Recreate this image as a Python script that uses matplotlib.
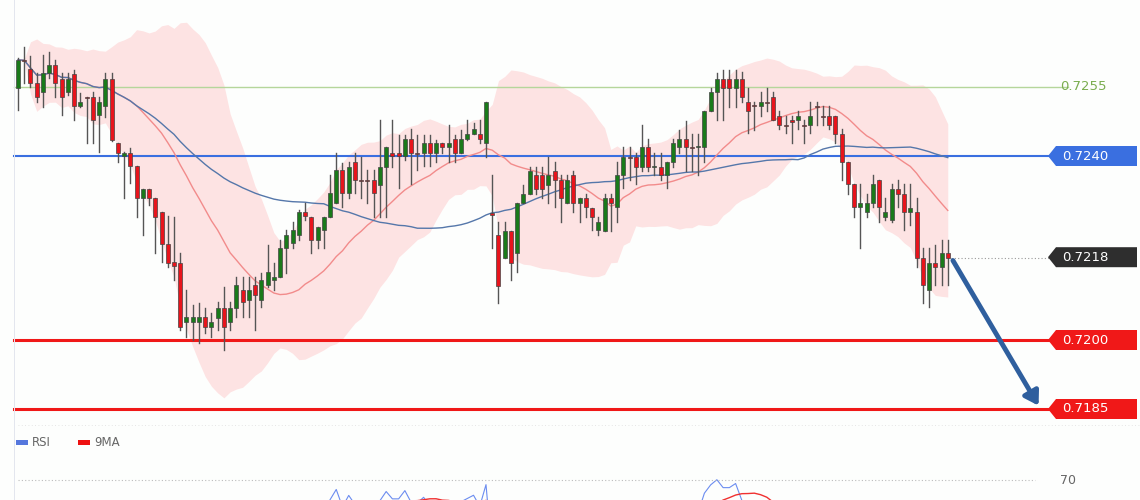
import numpy as np
import pandas as pd
import matplotlib
matplotlib.use("Agg")
import matplotlib.pyplot as plt
from matplotlib.patches import Polygon, Rectangle

# OHLC in units of 1e-5
opens = np.array([72548,72609,72589,72559,72539,72580,72598,72567,72539,72578,72509,72528,72528,72489,72509,72567,72428,72400,72407,72378,
72309,72328,72309,72278,72209,72170,72167,72039,72039,72039,72050,72028,72048,72070,72039,72070,72109,72087,72120,72087,
72120,72130,72137,72200,72211,72228,72278,72267,72217,72239,72267,72298,72370,72320,72387,72348,72348,72348,72337,72376,
72407,72407,72400,72437,72407,72407,72428,72407,72428,72420,72437,72407,72437,72448,72448,72428,72276,72228,72178,72237,
72189,72298,72317,72359,72359,72337,72367,72348,72298,72359,72298,72309,72287,72239,72237,72309,72289,72359,72398,72398,
72376,72420,72376,72376,72359,72387,72420,72437,72420,72420,72420,72498,72539,72567,72567,72548,72567,72517,72511,72509,
72517,72528,72487,72467,72478,72478,72467,72467,72509,72487,72487,72487,72448,72387,72339,72289,72278,72298,72348,72267,
72261,72328,72317,72278,72278,72178,72109,72167,72159,72189]) / 1e5
highs = np.array([72613,72637,72617,72580,72620,72626,72609,72580,72580,72587,72537,72528,72539,72528,72580,72580,72428,72409,72417,72378,
72328,72328,72309,72278,72270,72267,72189,72109,72076,72080,72070,72059,72083,72115,72083,72137,72137,72137,72137,72146,
72207,72167,72217,72239,72257,72283,72298,72267,72246,72267,72359,72407,72385,72387,72407,72398,72370,72370,72478,72420,
72478,72446,72446,72459,72446,72446,72446,72435,72428,72467,72446,72457,72478,72472,72478,72517,72359,72257,72257,72237,
72298,72337,72376,72376,72376,72398,72387,72359,72359,72367,72309,72317,72287,72267,72317,72317,72387,72420,72420,72407,
72467,72437,72407,72407,72387,72437,72457,72476,72448,72448,72498,72548,72580,72587,72587,72587,72583,72548,72517,72539,
72548,72539,72498,72487,72487,72498,72478,72517,72517,72509,72509,72487,72459,72387,72339,72339,72317,72359,72348,72309,
72339,72348,72339,72339,72309,72200,72200,72207,72217,72217]) / 1e5
lows = np.array([72500,72559,72550,72517,72507,72570,72528,72489,72533,72478,72507,72428,72428,72409,72485,72433,72387,72309,72341,72267,
72228,72293,72189,72170,72159,72130,72022,72007,72000,71993,72015,72007,72022,71978,72022,72050,72050,72050,72022,72072,
72115,72109,72137,72146,72200,72217,72261,72189,72200,72200,72267,72298,72289,72309,72320,72309,72298,72267,72267,72267,
72376,72330,72391,72339,72370,72378,72378,72387,72407,72387,72387,72407,72435,72448,72428,72398,72200,72080,72178,72130,
72148,72298,72317,72317,72309,72298,72289,72257,72298,72278,72257,72267,72239,72228,72237,72237,72257,72330,72348,72339,
72367,72367,72359,72348,72330,72376,72407,72367,72367,72359,72387,72498,72478,72478,72507,72507,72517,72450,72457,72487,
72498,72478,72459,72450,72428,72459,72428,72450,72467,72467,72459,72428,72348,72317,72267,72200,72267,72289,72257,72261,
72257,72289,72239,72250,72159,72080,72072,72120,72120,72120]) / 1e5
closes = np.array([72609,72607,72559,72528,72580,72598,72559,72528,72567,72509,72517,72526,72478,72517,72567,72435,72407,72407,72378,72309,
72328,72309,72267,72209,72167,72161,72028,72050,72050,72050,72028,72039,72070,72028,72070,72120,72083,72109,72098,72130,
72148,72137,72200,72228,72239,72278,72270,72217,72246,72267,72320,72370,72320,72376,72348,72346,72346,72320,72376,72420,
72400,72400,72437,72407,72405,72428,72407,72428,72420,72428,72407,72437,72448,72459,72437,72517,72272,72117,72237,72167,
72298,72317,72367,72328,72328,72359,72348,72309,72348,72298,72309,72289,72267,72257,72309,72298,72359,72398,72396,72376,
72420,72376,72378,72359,72387,72428,72437,72420,72418,72422,72498,72539,72567,72548,72548,72567,72528,72498,72509,72517,
72515,72478,72467,72465,72474,72487,72465,72487,72507,72485,72467,72448,72387,72339,72289,72298,72298,72339,72289,72278,
72328,72317,72278,72287,72178,72120,72167,72159,72189,72178]) / 1e5

levels = [0.7255, 0.7240, 0.7218, 0.7200, 0.7185]
level_labels = ["0.7255", "0.7240", "0.7218", "0.7200", "0.7185"]

W, H = 1140, 500
fig = plt.figure(figsize=(W/100, H/100), dpi=100)
fig.patch.set_facecolor("#fdfefd")
ax = fig.add_axes([0, 0, 1, 1])
ax.set_facecolor("none")
ax.axis("off")
ppu = 46000.0
ytop = 0.7240 + 156/ppu
ybot = 0.7240 - (H-156)/ppu
step = 6.24
ax.set_ylim(ybot, ytop)
ax.set_xlim(-18/step, (W-18)/step)

def fx(px):
    return px/W
def fy(py):
    return 1 - py/H

n = len(closes)
x = np.arange(n)
s = pd.Series(closes)
mid = s.rolling(20, min_periods=1).mean()
sd = s.rolling(20, min_periods=2).std().bfill()
upper = mid + 2*sd
lower = mid - 2*sd
ma50 = s.rolling(50, min_periods=1).mean()

ax.fill_between(x, lower, upper, color="#fde3e3", lw=0, zorder=1)
ax.plot(x, mid, color="#f28b8b", lw=1, zorder=2)
ax.plot(x, ma50, color="#5577aa", lw=1, zorder=2)

# level lines
x0 = -4/step
x1 = 1050/step
ax.plot([x0, x1], [0.7255]*2, color="#b5d69b", lw=1, zorder=1.5)
ax.plot([x0, x1], [0.7240]*2, color="#3a6fe0", lw=1.5, zorder=1.5)
for lv in (0.7200, 0.7185):
    ax.plot([x0, x1], [lv]*2, color="#f01818", lw=2.2, zorder=1.5)
ax.plot([n-1+0.5, x1], [closes[-1]]*2, color="#999999", lw=0.8, ls=(0, (1, 2)), zorder=1.5)

# candles
for i in range(n):
    o, h, l, c = opens[i], highs[i], lows[i], closes[i]
    ax.plot([i, i], [l, h], color="#555555", lw=1, zorder=3)
    col = "#1a7a1a" if c > o else "#e8141c"
    bot = min(o, c)
    hgt = max(abs(c - o), 1.5e-5)
    ax.add_patch(Rectangle((i - 0.32, bot), 0.64, hgt, facecolor=col,
                           edgecolor="#444444", lw=0.5, zorder=4))

# arrow
ax.annotate("", xy=(1040/step - 18/step, 0.71852), xytext=(n-1+0.6, closes[-1]),
            arrowprops=dict(arrowstyle="-|>,head_width=0.5,head_length=0.8",
                            color="#2f5f9e", lw=3.5), zorder=6)

# labels
colors = ["none", "#3a6fe0", "#2e2e2e", "#f01818", "#f01818"]
for lv, lab, col in zip(levels, level_labels, colors):
    py = 156 + (0.7240 - lv)*ppu
    if col == "none":
        fig.text(fx(1060), fy(py), lab, color="#7aad4f", fontsize=9.5,
                 va="center", ha="left", family="DejaVu Sans")
        continue
    pts = [(1048, py), (1056, py-10), (1137, py-10), (1137, py+10), (1056, py+10)]
    fig.patches.append(Polygon([(fx(a), fy(b)) for a, b in pts], closed=True,
                               transform=fig.transFigure, facecolor=col, edgecolor="none"))
    fig.text(fx(1062), fy(py), lab, color="white", fontsize=9.5, va="center",
             ha="left", family="DejaVu Sans")

# RSI panel
delta = s.diff()
gain = delta.clip(lower=0).ewm(alpha=1/14, adjust=False).mean()
loss = (-delta.clip(upper=0)).ewm(alpha=1/14, adjust=False).mean()
rsi = 100 - 100/(1 + gain/loss.replace(0, np.nan))
rsi = rsi.fillna(50)
rsi_ma = rsi.rolling(9, min_periods=1).mean()
ax2 = fig.add_axes([0, 0, 1, 35/H])
ax2.axis("off")
ax2.set_xlim(ax.get_xlim())
ax2.set_ylim(62, 76)
ax2.plot(x[1:], rsi[1:], color="#6b8cf0", lw=0.8)
ax2.plot(x[1:], rsi_ma[1:], color="#f03030", lw=1)
ax2.plot([0, 1035/step - 18/step], [70, 70], color="#bbbbbb", lw=0.8, ls=(0, (1, 2)))
fig.text(fx(1060), fy(480), "70", fontsize=9, color="#666666", va="center")

# dotted separator
ax.plot([0, 1125/step], [0.7240 - (425-156)/ppu]*2, color="#dddddd", lw=0.6, ls=(0, (1, 3)))

# legend
fig.patches.append(Rectangle((fx(16), fy(445)), 12/W, 5/H, transform=fig.transFigure,
                             facecolor="#5577dd", edgecolor="none"))
fig.text(fx(32), fy(442), "RSI", fontsize=8.5, color="#666666", va="center")
fig.patches.append(Rectangle((fx(78), fy(445)), 12/W, 5/H, transform=fig.transFigure,
                             facecolor="#ee1111", edgecolor="none"))
fig.text(fx(94), fy(442), "9MA", fontsize=8.5, color="#666666", va="center")

# left border
fig.patches.append(Rectangle((fx(14), 0), 0.6/W, 1, transform=fig.transFigure,
                             facecolor="#e3e6ee", edgecolor="none"))

fig.savefig("out.png", dpi=100, facecolor=fig.get_facecolor())
